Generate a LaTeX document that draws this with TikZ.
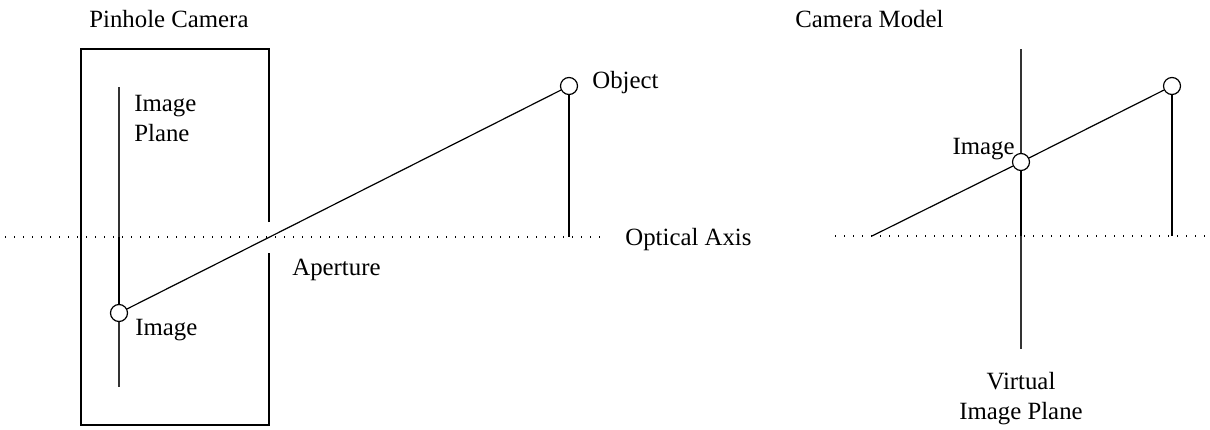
\documentclass[tikz,border=0pt]{standalone}
\usepackage{fontspec}
\setmainfont{Liberation Serif}
\usetikzlibrary{positioning,calc}
\tikzset{
  pinpoint/.style={
    circle, draw=black, fill=white, line width=0.6pt,
    minimum size=8.5pt, inner sep=0pt
  },
  axisline/.style={line width=0.7pt, dash pattern=on 0.7pt off 3.8pt},
  rayline/.style={line width=0.6pt},
  planeline/.style={line width=0.6pt, color=black!80},
  heightline/.style={line width=1.4pt},
  boxline/.style={line width=0.7pt},
  labeltext/.style={
    font=\fontsize{12.4}{14.7}\selectfont, inner sep=0pt
  },
}

\begin{document}
\begin{tikzpicture}[x=0.5pt, y=-0.5pt]
  \useasboundingbox (0,0) rectangle (1210,429);
  % pinhole camera
  \node[labeltext, anchor=base west] at (89,27) (titleA) {Pinhole Camera};
  \draw[boxline] (269,222) -- (269,49) -- (81,49) -- (81,425) -- (269,425) -- (269,253);
  \coordinate (axA) at (269,237);
  \draw[axisline] (5,237) -- (605,237);
  \draw[planeline] (119,87) -- (119,387);
  \node[pinpoint] at (119,313) (imgA) {};
  \node[pinpoint] at (569,86) (objA) {};
  \draw[heightline] (imgA) -- (imgA |- axA);
  \draw[heightline] (objA) -- (objA |- axA);
  \draw[rayline] (imgA) -- (objA);
  \node[labeltext, anchor=north west, align=left] at (134,95) (planeA) {Image\\Plane};
  \node[labeltext, anchor=base west] at (135,335) (imgAlbl) {Image};
  \node[labeltext, anchor=base west] at (592,88) (objAlbl) {Object};
  \node[labeltext, anchor=base west] at (292,275) (apertlbl) {Aperture};
  \node[labeltext, anchor=base west] at (625,245) (axislbl) {Optical Axis};
  % camera model
  \node[labeltext, anchor=base west] at (795,27) (titleB) {Camera Model};
  \draw[planeline] (1021,49) -- (1021,349);
  \draw[axisline] (835,236) -- (1210,236);
  \coordinate (eyeB) at (872,236);
  \node[pinpoint] at (1021,162) (imgB) {};
  \node[pinpoint] at (1172,86) (objB) {};
  \draw[heightline] (imgB) -- (imgB |- eyeB);
  \draw[heightline] (objB) -- (objB |- eyeB);
  \draw[rayline] (eyeB) -- (imgB);
  \draw[rayline] (imgB) -- (objB);
  \node[labeltext, anchor=base east] at (1015,154) (imgBlbl) {Image};
  \node[labeltext, anchor=north, align=center] at (1021,372) (planeB) {Virtual\\Image Plane};
\end{tikzpicture}
\end{document}
